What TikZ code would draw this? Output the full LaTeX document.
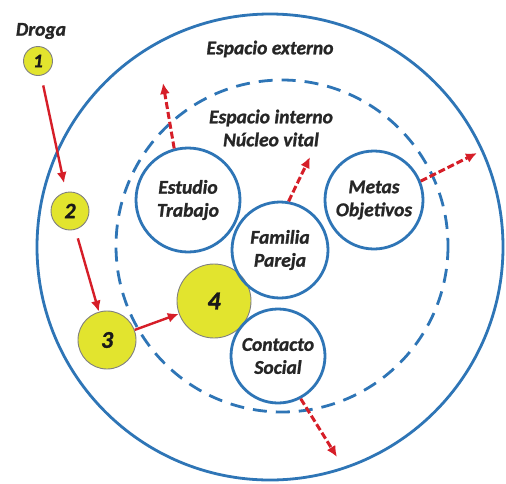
\documentclass[tikz,border=0pt]{standalone}
\usepackage{fontspec}
\setmainfont{Carlito}[BoldItalicFeatures={FakeBold=1.2}]
\usetikzlibrary{arrows.meta}
\definecolor{ringblue}{RGB}{46,117,182}
\definecolor{drugred}{RGB}{214,30,40}
\definecolor{drugyellow}{RGB}{226,228,46}
\tikzset{>={Latex[length=11pt, width=10pt]}}

\begin{document}
\begin{tikzpicture}[x=1pt, y=-1pt,
  lbl/.style = {font=\fontsize{19.5}{23}\selectfont\bfseries\itshape, align=center, text=black!85},
  area/.style = {circle, draw=ringblue, line width=2.8pt, inner sep=0pt, lbl},
  ball/.style = {circle, fill=drugyellow, draw=black!50, line width=0.9pt, inner sep=0pt, text=black!90},
  push/.style = {->, drugred, line width=2.4pt},
  leak/.style = {->, drugred, line width=3pt, dash pattern=on 7pt off 3pt}]
\useasboundingbox (0,0) rectangle (506,483);
\fill[white] (0,0) rectangle (506,483);

% the two spaces
\draw[ringblue, line width=2.8pt] (270,247) circle [radius=233];
\draw[ringblue, line width=2.8pt, dash pattern=on 14pt off 9pt] (282,246) circle [radius=166];
\node[lbl] (outer) at (270,49) {Espacio externo};
\node[lbl] (inner) at (271,128) {Espacio interno\\N\'ucleo vital};

% the drug
\node[lbl] (droga) at (41,31) {Droga};
\node[ball, minimum size=29, font=\fontsize{19}{19}\selectfont\bfseries\itshape] (d1) at (38,61) {1};
\node[ball, minimum size=38, font=\fontsize{22}{22}\selectfont\bfseries\itshape] (d2) at (70,211) {2};
\node[ball, minimum size=58, font=\fontsize{24}{24}\selectfont\bfseries\itshape] (d3) at (107,340) {3};
\node[ball, minimum size=74, font=\fontsize{26}{26}\selectfont\bfseries\itshape] (d4) at (214,301) {4};

% the vital core
\node[area, minimum size=104] (study) at (188,200) {Estudio\\Trabajo};
\node[area, minimum size=98] (goals) at (374,200) {Metas\\Objetivos};
\node[area, minimum size=96] (family) at (280,250) {Familia\\Pareja};
\node[area, minimum size=94] (social) at (278,356) {Contacto\\Social};

\draw[push, shorten <=10pt, shorten >=9pt] (d1) -- (d2);
\draw[push, shorten <=9pt] (d2) -- (d3);
\draw[push] (d3) -- (d4);

\coordinate (studyout) at (163,83);
\coordinate (familyout) at (310,157);
\coordinate (goalsout) at (477,153);
\coordinate (socialout) at (337,457);
\draw[leak] (study.105) -- (studyout);
\draw[leak] (family.80) -- (familyout);
\draw[leak] (goals.22) -- (goalsout);
\draw[leak] (social.-62) -- (socialout);
\end{tikzpicture}
\end{document}
